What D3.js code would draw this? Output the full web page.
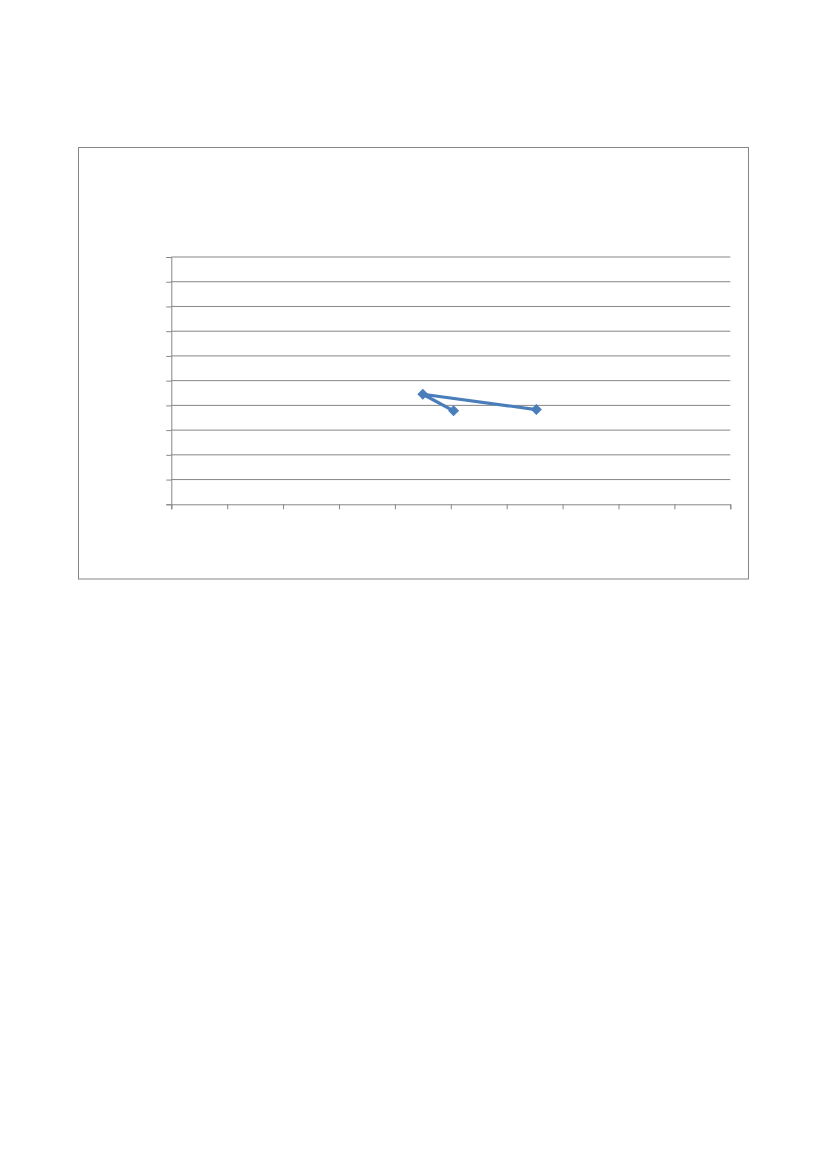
<!DOCTYPE html>
<html>
<head>
<meta charset="utf-8">
<script src="https://cdn.jsdelivr.net/npm/d3@7"></script>
<style>
  html, body { margin: 0; padding: 0; background: #fff; }
  svg { display: block; }
</style>
</head>
<body>
<div class="chart-container"></div>
<script>
// data (axes carry no labels, so 0..10 units on both)
const xTicks = [0, 1, 2, 3, 4, 5, 6, 7, 8, 9, 10]
const yTicks = [0, 1, 2, 3, 4, 5, 6, 7, 8, 9, 10]
const xValues = [5.05, 4.5, 6.53]
const yValues = [3.78, 4.45, 3.83]

const width = 827
const height = 1169
const plot = { left: 171.3, right: 730.3, top: 257, bottom: 504.3 }
const grey = '#868686'
const blue = '#4a7ebb'

const svg = d3
  .select('.chart-container')
  .append('svg')
  .attr('width', width)
  .attr('height', height)
  .attr('viewBox', '0 0 ' + width + ' ' + height)

// chart frame
svg
  .append('rect')
  .attr('x', 78.5)
  .attr('y', 147.5)
  .attr('width', 670)
  .attr('height', 431.5)
  .attr('fill', '#fff')
  .attr('stroke', grey)
  .attr('stroke-width', 1)

const x = d3.scaleLinear().domain([0, 10]).range([plot.left, plot.right])
const y = d3.scaleLinear().domain([0, 10]).range([plot.bottom, plot.top])

// horizontal gridlines
svg
  .append('g')
  .attr('class', 'grid')
  .selectAll('line')
  .data(yTicks.slice(1))
  .enter()
  .append('line')
  .attr('x1', plot.left)
  .attr('x2', plot.right)
  .attr('y1', (d) => y(d))
  .attr('y2', (d) => y(d))
  .attr('stroke', grey)
  .attr('stroke-width', 1)

const yAxis = svg
  .append('g')
  .attr('transform', `translate(${plot.left},0)`)
  .call(d3.axisLeft(y).tickValues(yTicks).tickSize(5).tickFormat(''))

const xAxis = svg
  .append('g')
  .attr('transform', `translate(0,${plot.bottom})`)
  .call(d3.axisBottom(x).tickValues(xTicks).tickSize(5).tickFormat(''))

;[yAxis, xAxis].forEach((axis) => {
  axis.select('.domain').attr('stroke', grey).attr('stroke-width', 1)
  axis.selectAll('.tick line').attr('stroke', grey).attr('stroke-width', 1)
})

const points = xValues.map((v, i) => ({ x: v, y: yValues[i] }))

const line = d3
  .line()
  .x((d) => x(d.x))
  .y((d) => y(d.y))

svg
  .append('path')
  .datum(points)
  .attr('d', line)
  .attr('fill', 'none')
  .attr('stroke', blue)
  .attr('stroke-width', 3.2)
  .attr('stroke-linejoin', 'round')
  .attr('stroke-linecap', 'round')

// diamond markers
svg
  .append('g')
  .selectAll('path')
  .data(points)
  .enter()
  .append('path')
  .attr('transform', (d) => `translate(${x(d.x)},${y(d.y)}) rotate(45)`)
  .attr('d', d3.symbol().type(d3.symbolSquare).size(46))
  .attr('fill', blue)
  .attr('stroke', blue)
  .attr('stroke-width', 1)
</script>
</body>
</html>
